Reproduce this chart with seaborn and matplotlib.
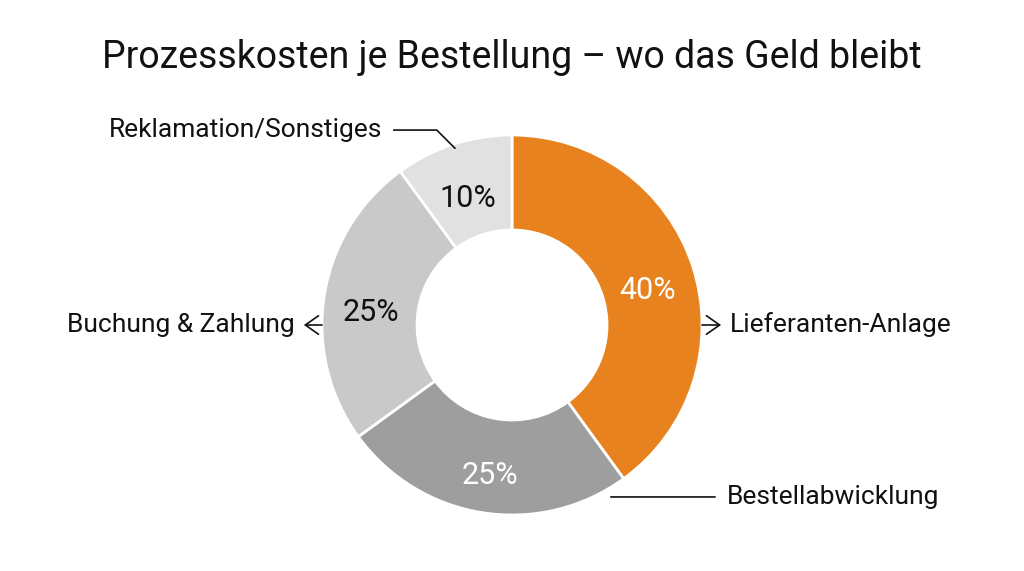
import matplotlib
matplotlib.use('Agg')
import matplotlib.pyplot as plt
import seaborn as sns

# Daten
categories = ['Lieferanten-Anlage', 'Bestellabwicklung', 'Buchung & Zahlung', 'Reklamation/Sonstiges']
shares = [40, 25, 25, 10]
colors = ['#E8821E', '#9E9E9E', '#C9C9C9', '#E1E1E1']
pct_colors = ['white', 'white', '#111111', '#111111']
title = 'Prozesskosten je Bestellung – wo das Geld bleibt'

sns.set_theme(style='white')
plt.rcParams['font.family'] = ['Roboto', 'DejaVu Sans']

fig = plt.figure(figsize=(10.24, 5.71), dpi=100)
ax = fig.add_axes([0, 0, 1, 1])

wedges, texts, autotexts = ax.pie(
    shares, colors=sns.color_palette(colors), startangle=90, counterclock=False,
    radius=1.0, autopct='%d%%', pctdistance=0.75,
    wedgeprops=dict(width=0.5, edgecolor='white', linewidth=2),
    textprops=dict(fontsize=22))
for t, c in zip(autotexts, pct_colors):
    t.set_color(c)
    x, y = t.get_position()
    t.set_position((x, y - 0.05))

# Ring bei (512, 325) px mit Radius 190 px
s = 190.0
ax.set_xlim(-512 / s, 512 / s)
ax.set_ylim(-246 / s, 325 / s)
ax.set_aspect('equal')
ax.axis('off')

lbl = dict(fontsize=19, color='#111111', va='center')
line = dict(color='#111111', lw=1.2)

ax.annotate(categories[0], xy=(1.0, 0.0), xytext=(1.147, 0.0), ha='left',
            arrowprops=dict(arrowstyle='<-,head_length=0.5,head_width=0.35', shrinkA=4, shrinkB=0, **line), **lbl)
ax.annotate(categories[1], xy=(0.52, -0.905), xytext=(1.13, -0.905), ha='left',
            arrowprops=dict(arrowstyle='-', shrinkA=6, shrinkB=0, **line), **lbl)
ax.annotate(categories[2], xy=(-1.0, 0.0), xytext=(-1.142, 0.0), ha='right',
            arrowprops=dict(arrowstyle='<-,head_length=0.5,head_width=0.35', shrinkA=4, shrinkB=0, **line), **lbl)
ax.annotate(categories[3], xy=(-0.30, 0.93), xytext=(-0.684, 1.026), ha='right',
            arrowprops=dict(arrowstyle='-', connectionstyle='angle,angleA=0,angleB=135,rad=0',
                            shrinkA=6, shrinkB=0, **line), **lbl)

fig.text(0.5, 0.9, title, ha='center', va='center', fontsize=27, color='#111111')

fig.savefig('out.png', dpi=100, facecolor='white')
